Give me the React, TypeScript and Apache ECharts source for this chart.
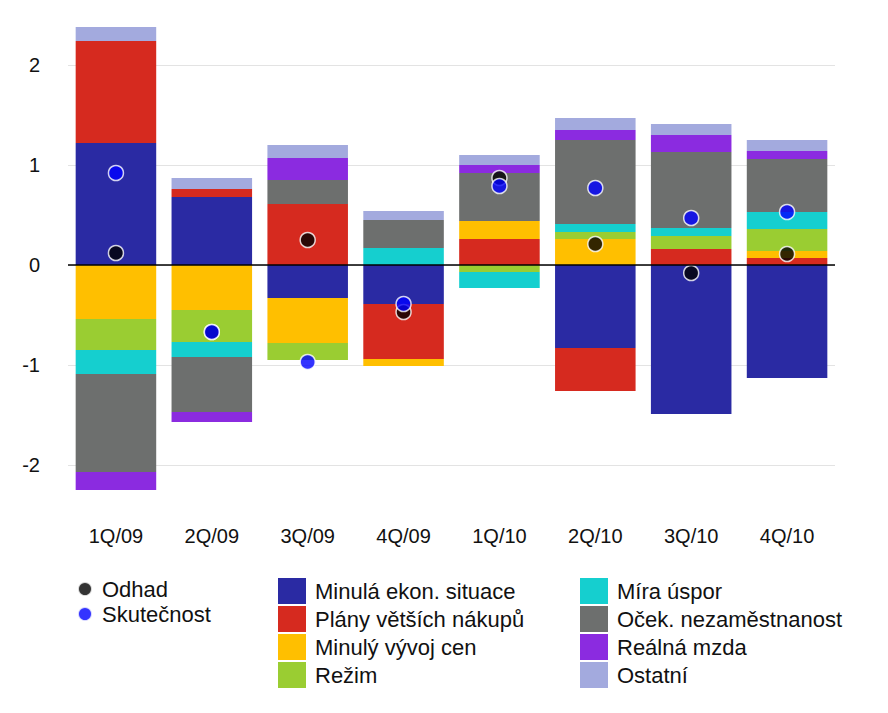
import React, { useEffect, useRef } from 'react';
import * as echarts from 'echarts';

const categories = ['1Q/09', '2Q/09', '3Q/09', '4Q/09', '1Q/10', '2Q/10', '3Q/10', '4Q/10'];

const minulaEkon = [1.22, 0.68, -0.33, -0.39, 0, -0.83, -1.49, -1.13];
const planyNakupu = [1.02, 0.08, 0.61, -0.55, 0.26, -0.43, 0.16, 0.07];
const minulyVyvojCen = [-0.54, -0.45, -0.45, -0.07, 0.18, 0.26, 0, 0.07];
const rezim = [-0.31, -0.32, -0.17, 0, -0.07, 0.07, 0.13, 0.22];
const miraUspor = [-0.24, -0.15, 0, 0.17, -0.16, 0.08, 0.08, 0.17];
const ocekNezam = [-0.98, -0.55, 0.24, 0.28, 0.48, 0.84, 0.76, 0.53];
const realnaMzda = [-0.18, -0.1, 0.22, 0, 0.08, 0.1, 0.17, 0.08];
const ostatni = [0.14, 0.11, 0.13, 0.09, 0.1, 0.12, 0.11, 0.11];

const odhad = [0.12, -0.67, 0.25, -0.47, 0.87, 0.21, -0.08, 0.11];
const skutecnost = [0.92, -0.67, -0.97, -0.39, 0.79, 0.77, 0.47, 0.53];

const stacks = [
  { name: 'Minulá ekon. situace', color: '#2a2aa3', data: minulaEkon },
  { name: 'Plány větších nákupů', color: '#d62a1f', data: planyNakupu },
  { name: 'Minulý vývoj cen', color: '#ffbf00', data: minulyVyvojCen },
  { name: 'Režim', color: '#9acd32', data: rezim },
  { name: 'Míra úspor', color: '#15cfcf', data: miraUspor },
  { name: 'Oček. nezaměstnanost', color: '#6d6f6e', data: ocekNezam },
  { name: 'Reálná mzda', color: '#8b2be0', data: realnaMzda },
  { name: 'Ostatní', color: '#a3aade', data: ostatni },
];

const font = 'Liberation Sans';

export default function App() {
  const chartRef = useRef<HTMLDivElement>(null);

  useEffect(() => {
    const chart = echarts.init(chartRef.current, null, { renderer: 'svg' });
    const legendText = { fontFamily: font, fontSize: 22, color: '#111', padding: [0, 0, 0, 4] };
    const barSeries: any[] = stacks.map((s, i) => ({
      name: s.name,
      type: 'bar',
      stack: 'total',
      barCategoryGap: '16%',
      itemStyle: { color: s.color },
      data: s.data.map((v) => (v === 0 ? null : v)),
      ...(i === 0
        ? {
            markLine: {
              silent: true,
              symbol: 'none',
              label: { show: false },
              lineStyle: { color: '#000', width: 1.5, type: 'solid' },
              data: [{ yAxis: 0 }],
              z: 10,
            },
          }
        : {}),
    }));
    const dot = (name: string, color: string, data: number[]) => ({
      name,
      type: 'scatter',
      symbolSize: 15,
      z: 5,
      itemStyle: { color, borderColor: '#fff', borderWidth: 1.5 },
      data,
    });
    chart.setOption({
      animation: false,
      textStyle: { fontFamily: font },
      grid: { left: 60, right: 45, top: 7, height: 500 },
      xAxis: {
        type: 'category',
        data: categories,
        axisLine: { show: false },
        axisTick: { show: false },
        axisLabel: { fontSize: 20, color: '#111', margin: 11, fontFamily: font },
      },
      yAxis: {
        type: 'value',
        min: -2.5,
        max: 2.5,
        interval: 0.5,
        axisLine: { show: false },
        axisTick: { show: false },
        axisLabel: {
          fontSize: 20,
          color: '#111',
          margin: 28,
          fontFamily: font,
          formatter: (v: number) => (Number.isInteger(v) && Math.abs(v) < 2.5 ? String(v) : ''),
        },
        splitLine: { lineStyle: { color: ['transparent', '#e3e3e3'] } },
      },
      legend: [
        {
          data: ['Odhad', 'Skutečnost'],
          orient: 'vertical',
          left: 64,
          top: 565,
          itemWidth: 16,
          itemHeight: 14,
          itemGap: 3,
          textStyle: legendText,
        },
        {
          data: stacks.slice(0, 4).map((s) => s.name),
          orient: 'vertical',
          left: 265,
          top: 565,
          itemWidth: 28,
          itemHeight: 26,
          itemGap: 2,
          icon: 'rect',
          textStyle: legendText,
        },
        {
          data: stacks.slice(4).map((s) => s.name),
          orient: 'vertical',
          left: 567,
          top: 565,
          itemWidth: 28,
          itemHeight: 26,
          itemGap: 2,
          icon: 'rect',
          textStyle: legendText,
        },
      ],
      series: [
        ...barSeries,
        dot('Odhad', '#000', odhad),
        dot('Skutečnost', '#0000ff', skutecnost),
      ],
    });
    return () => chart.dispose();
  }, []);

  return <div ref={chartRef} style={{ width: 872, height: 697 }} />;
}
